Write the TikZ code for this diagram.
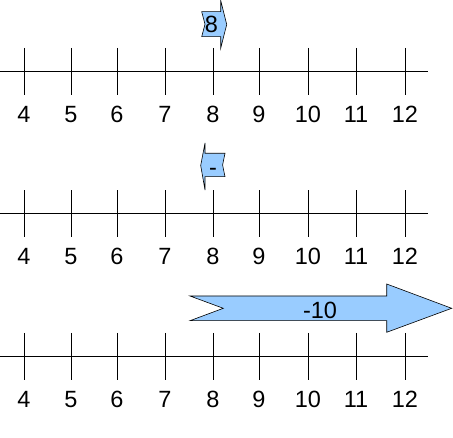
\documentclass[tikz,border=0pt]{standalone}
\usepackage{fontspec}
\setmainfont{Liberation Sans}
\definecolor{arrowblue}{HTML}{99CCFF}

\begin{document}
\begin{tikzpicture}[x=1pt, y=-1pt,
        numline/.style = {line width=1pt},
        jump/.style = {draw, fill=arrowblue, line width=0.6pt, line join=miter},
        lbl/.style = {font=\fontsize{23.5}{28}\selectfont, inner sep=0pt, anchor=base}]
        \useasboundingbox (0,0) rectangle (453,438);

        % three number lines
        \foreach \row/\ly in {a/71.5, b/214, c/356.5} {
            \draw[numline] (0,\ly) -- (428,\ly);
            \foreach \n/\tx in {4/24, 5/71, 6/117, 7/165, 8/213, 9/259, 10/308, 11/356, 12/405} {
                \draw[numline] (\tx,\ly-23.5) -- (\tx,\ly+23.5);
                \node[lbl] (\row\n) at (\tx,\ly+51) {\n};
            }
        }

        % small step right
        \draw[jump] (201.7,11.7) -- (220.7,11.7) -- (220.7,0.5) -- (226.7,24.5)
            -- (220.7,48.3) -- (220.7,36.7) -- (201.7,36.7) -- (205,24.2) -- cycle;
        \node[lbl] (jumpa) at (211.5,33) {8};

        % small step left
        \draw[jump] (225,153.3) -- (205,153.3) -- (205,143) -- (200.7,165.5)
            -- (205,190) -- (205,176.7) -- (225,176.7) -- (222.6,165) -- cycle;
        \node[lbl] (jumpb) at (213,176) {-};

        % long step right
        \draw[jump] (190,296) -- (386.7,296) -- (386.7,284) -- (451.7,308.3)
            -- (386.7,332.3) -- (386.7,320.7) -- (190,320.7) -- (223.3,308.3) -- cycle;
        \node[lbl] (jumpc) at (320,318.5) {-10};
\end{tikzpicture}
\end{document}
